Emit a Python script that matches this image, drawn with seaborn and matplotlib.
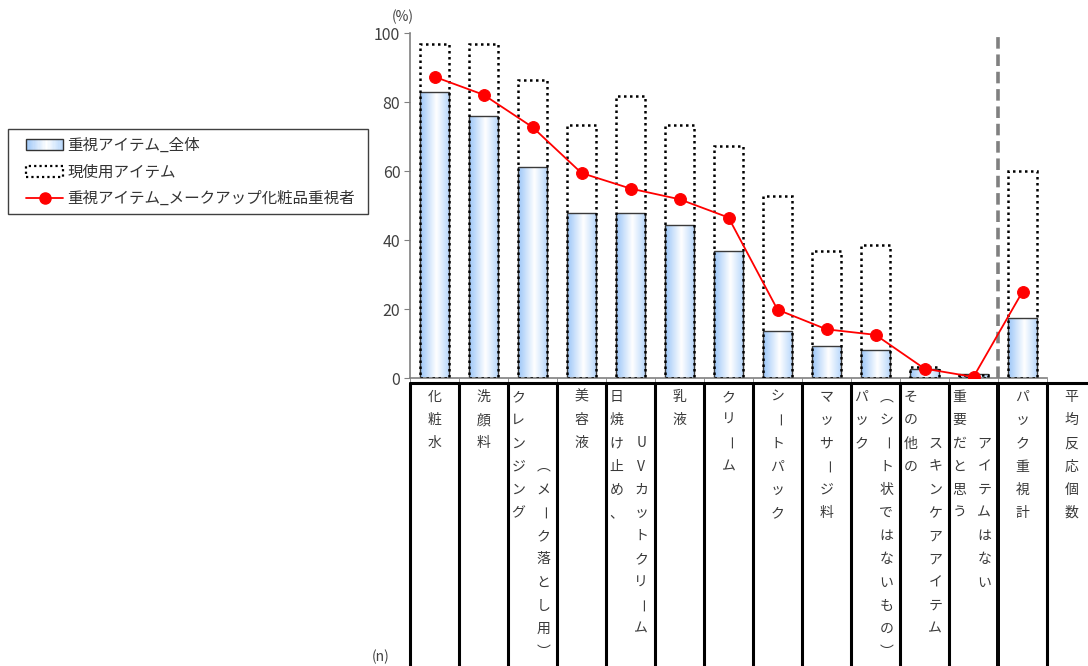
import numpy as np
import pandas as pd
import matplotlib
matplotlib.use('Agg')
import matplotlib.pyplot as plt
import seaborn as sns
from matplotlib.patches import Rectangle
from matplotlib.lines import Line2D
from matplotlib.colors import LinearSegmentedColormap
from matplotlib.legend_handler import HandlerBase
from matplotlib.transforms import blended_transform_factory

# data (%)
categories = ['化粧水', '洗顔料', 'クレンジング（メーク落とし用）', '美容液',
              '日焼け止め、UVカットクリーム', '乳液', 'クリーム', 'シートパック',
              'マッサージ料', 'パック（シート状ではないもの）',
              'その他のスキンケアアイテム', '重要だと思うアイテムはない', 'パック重視計']
important_all = [82.9, 76.1, 61.2, 47.8, 47.8, 44.5, 36.9, 13.8, 9.4, 8.2, 2.6, 1.2, 17.4]
currently_used = [96.8, 96.8, 86.5, 73.5, 81.8, 73.5, 67.4, 52.8, 37.0, 38.6, 3.4, 1.0, 60.2]
important_makeup = [87.4, 82.2, 72.8, 59.5, 55.0, 51.9, 46.6, 19.9, 14.2, 12.6, 2.8, 0.4, 25.1]

# vertical labels in the table under the axis (one list per column, split in two text columns)
table_labels = [['化粧水'], ['洗顔料'], ['クレンジング', '（メーク落とし用）'], ['美容液'],
                ['日焼け止め、', 'UVカットクリーム'], ['乳液'], ['クリーム'], ['シートパック'],
                ['マッサージ料'], ['パック', '（シート状ではないもの）'],
                ['その他の', 'スキンケアアイテム'], ['重要だと思う', 'アイテムはない'],
                ['パック重視計'], ['平均反応個数']]
second_start = [0, 0, 3, 0, 2, 0, 0, 0, 0, 0, 2, 2, 0, 0]

legend_labels = ['重視アイテム_全体', '現使用アイテム', '重視アイテム_メークアップ化粧品重視者']

sns.set_style('white')
plt.rcParams['font.family'] = ['Noto Sans CJK JP', 'DejaVu Sans']

W, H = 1088, 666
fig = plt.figure(figsize=(W / 100, H / 100), dpi=100)
ax = fig.add_axes([410 / W, 1 - 378.3 / H, 637 / W, 345 / H])

bar_cmap = LinearSegmentedColormap.from_list(
    'bar', [(0, '#9cc6f8'), (0.55, '#ffffff'), (1, '#b6d6fb')])

df = pd.DataFrame({'item': categories, 'all': important_all,
                   'used': currently_used, 'makeup': important_makeup})

# gradient bars (overall)
sns.barplot(data=df, x='item', y='all', order=categories, width=0.6,
            color='#cfe3fb', edgecolor='#3a3a3a', linewidth=1.0, ax=ax)
grad = np.linspace(0, 1, 64).reshape(1, -1)
for p in list(ax.patches):
    x0, y0 = p.get_x(), p.get_y()
    w, h = p.get_width(), p.get_height()
    im = ax.imshow(grad, cmap=bar_cmap, extent=[x0, x0 + w, y0, y0 + h],
                   aspect='auto', zorder=1.5, interpolation='bilinear')
    im.set_clip_path(p)
    p.set_facecolor('none')
    p.set_zorder(2)
n_first = len(ax.patches)

# dotted outline bars (currently used)
sns.barplot(data=df, x='item', y='used', order=categories, width=0.6,
            fill=False, color='black', linewidth=1.8, ax=ax)
for p in ax.patches[n_first:]:
    p.set_linestyle((0, (1.0, 1.4)))
    p.set_edgecolor('black')
    p.set_facecolor('none')
    p.set_zorder(3)

# red line (makeup-focused)
sns.lineplot(x=np.arange(len(categories)), y=important_makeup, color='#ff0000',
             marker='o', markersize=8.5, markeredgecolor='#ff0000', linewidth=1.3,
             sort=False, ax=ax, zorder=4)

ax.axvline(11.5, ymin=0, ymax=0.995, color='#808080', lw=2.6,
           linestyle=(0, (3.2, 1.6)), zorder=1)

ax.set_xlim(-0.5, 12.5)
ax.set_ylim(0, 100)
ax.set_yticks(range(0, 101, 20))
ax.set_xticks([])
ax.set_xticks(np.arange(-0.5, 13, 1), minor=True)
ax.set_xlabel('')
ax.set_ylabel('')
ax.tick_params(axis='y', length=4, color='#808080', labelsize=11.5, labelcolor='#404040', pad=3, left=True)
ax.tick_params(axis='x', which='minor', length=4, color='#808080', bottom=True)
for s in ['top', 'right']:
    ax.spines[s].set_visible(False)
for s in ['left', 'bottom']:
    ax.spines[s].set_color('#808080')
    ax.spines[s].set_linewidth(1.2)

fig.text(403 / W, 1 - 17 / H, '(%)', ha='center', va='center', fontsize=10, color='#404040')
fig.text(381 / W, 1 - 657 / H, '(n)', ha='center', va='center', fontsize=10, color='#404040')

# table under the axis
bt = blended_transform_factory(ax.transData, fig.transFigure)
top_y = 1 - 383 / H
ax.add_line(Line2D([-0.5, 13.9], [top_y, top_y], transform=bt, color='black', lw=2.2, clip_on=False))
for k in range(15):
    xb = k - 0.5
    if k == 12:
        for dx in (-0.03, 0.03):
            ax.add_line(Line2D([xb + dx, xb + dx], [0, top_y], transform=bt, color='black', lw=1.4, clip_on=False))
    else:
        ax.add_line(Line2D([xb, xb], [0, top_y], transform=bt, color='black', lw=2.2, clip_on=False))

# vertical writing: brackets take their vertical forms, the long vowel mark is turned
vertical_forms = {'（': '︵', '）': '︶'}
rotate_chars = {'ー': -90}
row0, row_step = 397, 23.2
for i, cols in enumerate(table_labels):
    offsets = [0.0] if len(cols) == 1 else [-0.29, 0.22]
    for c, text in enumerate(cols):
        start = 0 if c == 0 else second_start[i]
        for r, ch in enumerate(text):
            ypix = row0 + (start + r) * row_step
            ax.text(i + offsets[c], 1 - ypix / H, vertical_forms.get(ch, ch), transform=bt,
                    ha='center', va='center', fontsize=10, color='#3a3a3a',
                    rotation=rotate_chars.get(ch, 0), rotation_mode='default', clip_on=False)


class GradientHandler(HandlerBase):
    def create_artists(self, legend, orig_handle, xdescent, ydescent, width, height, fontsize, trans):
        arts = []
        n = 30
        for j in range(n):
            arts.append(Rectangle((-xdescent + width * j / n, -ydescent), width / n, height,
                                  facecolor=bar_cmap((j + 0.5) / n), edgecolor='none', transform=trans))
        arts.append(Rectangle((-xdescent, -ydescent), width, height, facecolor='none',
                              edgecolor='#333333', lw=1.0, transform=trans))
        return arts


# legend frame drawn separately so its padding matches the reference
fig.patches.append(Rectangle((8 / W, 1 - 214 / H), 360 / W, 85 / H, transform=fig.transFigure,
                             facecolor='white', edgecolor='#404040', lw=1.0, zorder=0))
h_bar = Rectangle((0, 0), 1, 1)
h_used = Rectangle((0, 0), 1, 1, facecolor='none', edgecolor='black', lw=1.6, linestyle=(0, (1.0, 1.4)))
h_line = Line2D([], [], color='#ff0000', marker='o', markersize=8, lw=1.3)
leg = fig.legend([h_bar, h_used, h_line], legend_labels,
                 handler_map={h_bar: GradientHandler()},
                 loc='upper left', bbox_to_anchor=(26 / W, 1 - 137 / H),
                 fontsize=11.2, frameon=False, handlelength=2.4, handletextpad=0.25,
                 labelspacing=0.62, borderpad=0.0, borderaxespad=0)
for t in leg.get_texts():
    t.set_color('#333333')

fig.savefig('out.png', dpi=100)
